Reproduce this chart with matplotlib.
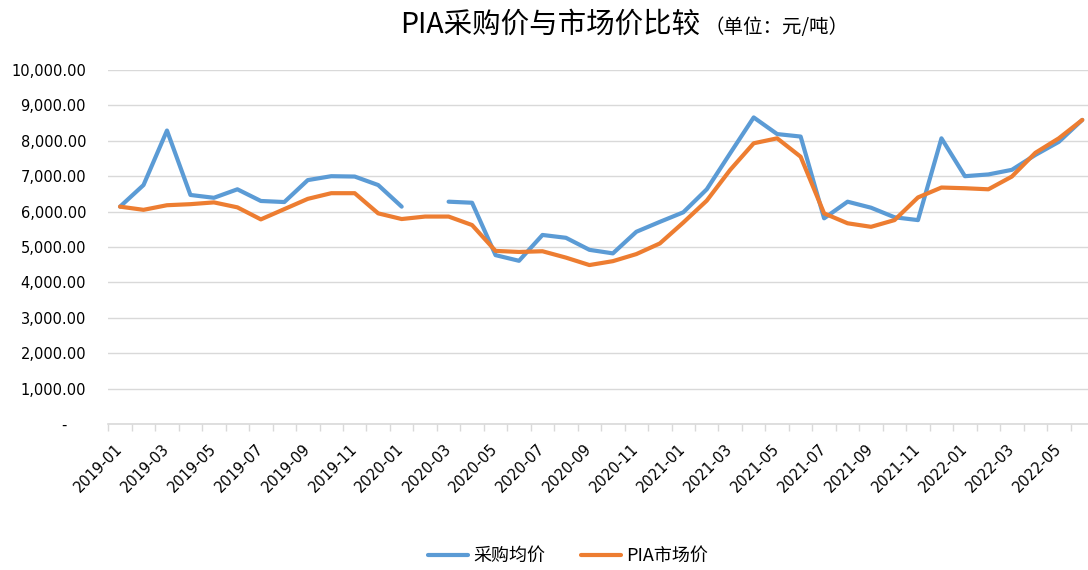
import numpy as np
import matplotlib.pyplot as plt
from matplotlib.ticker import FuncFormatter, FixedLocator

plt.rcParams['font.family'] = ['Noto Sans CJK SC', 'DejaVu Sans']

months = [f"{y}-{m:02d}" for y in (2019, 2020, 2021, 2022) for m in range(1, 13)][:42]

purchase = [6140, 6750, 8290, 6470, 6390, 6630, 6300, 6270, 6890, 7000, 6990, 6750,
            6140, np.nan, 6280, 6250, 4770, 4610, 5340, 5260, 4920, 4820, 5430, 5710,
            5980, 6630, 7650, 8660, 8190, 8120, 5810, 6280, 6110, 5840, 5760, 8070,
            7000, 7050, 7180, 7600, 7970, 8590]
market = [6140, 6050, 6180, 6210, 6260, 6120, 5780, 6070, 6360, 6520, 6520, 5950,
          5790, 5860, 5860, 5620, 4890, 4860, 4880, 4700, 4490, 4600, 4800, 5100,
          5690, 6310, 7180, 7930, 8070, 7550, 5950, 5670, 5570, 5760, 6400, 6680,
          6660, 6630, 6990, 7660, 8070, 8590]

blue = "#5B9BD5"
orange = "#ED7D31"
grid = "#D9D9D9"

fig = plt.figure(figsize=(10.88, 5.70), dpi=100)
ax = fig.add_axes([108.3 / 1088, 1 - 424 / 570, 985.7 / 1088, 354 / 570])

x = np.arange(len(months))
ax.plot(x, purchase, color=blue, lw=3, label="采购均价", solid_capstyle="round",
        solid_joinstyle="round")
ax.plot(x, market, color=orange, lw=3, label="PIA市场价", solid_capstyle="round",
        solid_joinstyle="round")

ax.set_xlim(-0.5, len(months) - 0.5)
ax.set_ylim(0, 10000)
ax.set_yticks(np.arange(0, 10001, 1000))
ax.yaxis.set_major_formatter(FuncFormatter(lambda v, p: "-    " if v == 0 else f"{v:,.2f}"))
ax.grid(axis="y", color=grid, lw=1)
ax.set_axisbelow(True)

ax.set_xticks(x[::2])
ax.set_xticklabels(months[::2], rotation=45, ha="right", va="center",
                   rotation_mode="anchor", family="DejaVu Sans", fontsize=10.5)
ax.xaxis.set_minor_locator(FixedLocator(np.arange(-0.5, len(months), 1)))
ax.tick_params(axis="x", which="major", length=0, pad=16)
ax.tick_params(axis="x", which="minor", length=5, color=grid, width=1)
ax.tick_params(axis="y", length=0, pad=16, labelsize=10.5)
for lab in ax.get_yticklabels():
    lab.set_family("DejaVu Sans")

for s in ("top", "right", "left"):
    ax.spines[s].set_visible(False)
ax.spines["bottom"].set_color(grid)
ax.spines["bottom"].set_linewidth(1.2)

fig.text(700 / 1088, 1 - 25 / 570, "PIA采购价与市场价比较", ha="right", va="center",
         fontsize=20.5)
fig.text(704 / 1088, 1 - 27 / 570, "（单位：元/吨）", ha="left", va="center",
         fontsize=14)

fig.legend(loc="center", bbox_to_anchor=(568 / 1088, 1 - 556 / 570), ncol=2,
           frameon=False, fontsize=13, handlelength=2.2, columnspacing=2.0,
           handletextpad=0.3, borderpad=0.2)

fig.savefig("out.png", dpi=100)
